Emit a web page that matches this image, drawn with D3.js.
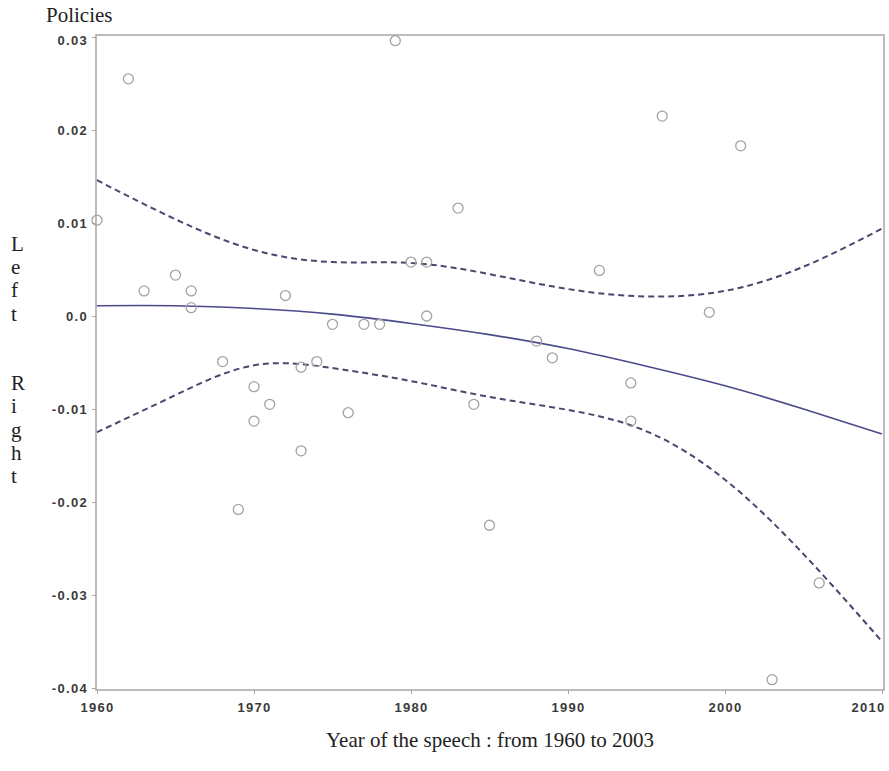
<!DOCTYPE html>
<html><head><meta charset="utf-8">
<script src="https://cdn.jsdelivr.net/npm/d3@7/dist/d3.min.js"></script>
<style>body{margin:0;background:#fff}svg{display:block}</style>
</head><body><svg id="c" width="889" height="771"></svg>
<script>
// Observed speeches
const years = [1960,1962,1963,1965,1966,1966,1968,1969,1970,1970,1971,1972,1973,1973,1974,1975,1976,1977,1978,1979,1980,1981,1981,1983,1984,1985,1988,1989,1992,1994,1994,1996,1999,2001,2003,2006];
const scores = [0.0103,0.0255,0.0027,0.0044,0.0027,0.0009,-0.0049,-0.0208,-0.0076,-0.0113,-0.0095,0.0022,-0.0055,-0.0145,-0.0049,-0.0009,-0.0104,-0.0009,-0.0009,0.0296,0.0058,0.0058,0.0000,0.0116,-0.0095,-0.0225,-0.0027,-0.0045,0.0049,-0.0072,-0.0113,0.0215,0.0004,0.0183,-0.0391,-0.0287];
// Fitted curve and confidence band, read at 5-year steps
const fitYears = [1960,1965,1970,1975,1980,1985,1990,1995,2000,2005,2010];
const fitMean  = [0.0011,0.0011,0.0008,0.0002,-0.0008,-0.0020,-0.0035,-0.0054,-0.0075,-0.0100,-0.0127];
const fitUpper = [0.0146,0.0104,0.0071,0.0058,0.0057,0.0045,0.0029,0.0021,0.0027,0.0053,0.0094];
const fitLower = [-0.0125,-0.0085,-0.0053,-0.0056,-0.0070,-0.0087,-0.0101,-0.0124,-0.0176,-0.0256,-0.0350];
const xTicks = [1960,1970,1980,1990,2000,2010];
const yTicks = [0.03,0.02,0.01,0,-0.01,-0.02,-0.03,-0.04];
const yTickLabels = ["0.03","0.02","0.01","0.0","-0.01","-0.02","-0.03","-0.04"];

const svg = d3.select("#c");
const L=96, R=884, T=35, B=690;
const x = d3.scaleLinear().domain([1960,2010]).range([97,882]);
const y = d3.scaleLinear().domain([-0.04,0.03]).range([688,37]);

// frame
svg.append("rect").attr("x",L).attr("y",T).attr("width",R-L).attr("height",B-T)
  .attr("fill","none").attr("stroke","#a6a6a6").attr("stroke-width",1.5);

// axes
const tickFont = g => g.selectAll("text").attr("font-family","'Liberation Sans',Arial,sans-serif")
  .attr("font-weight","bold").attr("font-size","13px").attr("fill","#3a3a3a").style("letter-spacing","1.3px");
const xa = svg.append("g").attr("transform",`translate(0,${B})`)
  .call(d3.axisBottom(x).tickValues(xTicks).tickFormat(d3.format("d")).tickSize(4).tickPadding(9));
xa.select(".domain").remove();
xa.selectAll("line").attr("stroke","#a6a6a6");
xa.call(tickFont);
xa.selectAll(".tick").filter(d=>d===2010).select("text").attr("dx","-14");
const ya = svg.append("g").attr("transform",`translate(${L},0)`)
  .call(d3.axisLeft(y).tickValues(yTicks).tickFormat((d,i)=>yTickLabels[i]).tickSize(4).tickPadding(4));
ya.select(".domain").remove();
ya.selectAll("line").attr("stroke","#a6a6a6");
ya.call(tickFont);
ya.selectAll(".tick").filter(d=>d===0.03).select("text").attr("dy","0.6em");

// curves
const pts = arr => fitYears.map((yr,i)=>[yr,arr[i]]);
const line = d3.line().x(d=>x(d[0])).y(d=>y(d[1])).curve(d3.curveNatural);
svg.append("path").attr("d",line(pts(fitUpper))).attr("fill","none")
  .attr("stroke","#48486e").attr("stroke-width",2).attr("stroke-dasharray","6,4");
svg.append("path").attr("d",line(pts(fitLower))).attr("fill","none")
  .attr("stroke","#48486e").attr("stroke-width",2).attr("stroke-dasharray","6,4");
svg.append("path").attr("d",line(pts(fitMean))).attr("fill","none")
  .attr("stroke","#4a4a8c").attr("stroke-width",1.6);

// points
svg.append("g").selectAll("circle").data(years).join("circle")
  .attr("cx",(d)=>x(d)).attr("cy",(d,i)=>y(scores[i])).attr("r",5)
  .attr("fill","none").attr("stroke","#a3a3a3").attr("stroke-width",1.3);

// titles
const serif = "'Liberation Serif','Times New Roman',serif";
svg.append("text").attr("x",46).attr("y",22).attr("font-family",serif).attr("font-size","21px")
  .attr("fill","#222").text("Policies");
svg.append("text").attr("x",490).attr("y",747).attr("text-anchor","middle").attr("font-family",serif)
  .attr("font-size","21px").attr("fill","#222").text("Year of the speech : from 1960 to 2003");
const letters = ["L","e","f","t"," "," ","R","i","g","h","t"];
const yl = svg.append("text").attr("font-family",serif).attr("font-size","21px").attr("fill","#222");
letters.forEach((c,i)=>{
  yl.append("tspan").attr("x",11).attr("y",251+i*23.2).text(c);
});
</script></body></html>
